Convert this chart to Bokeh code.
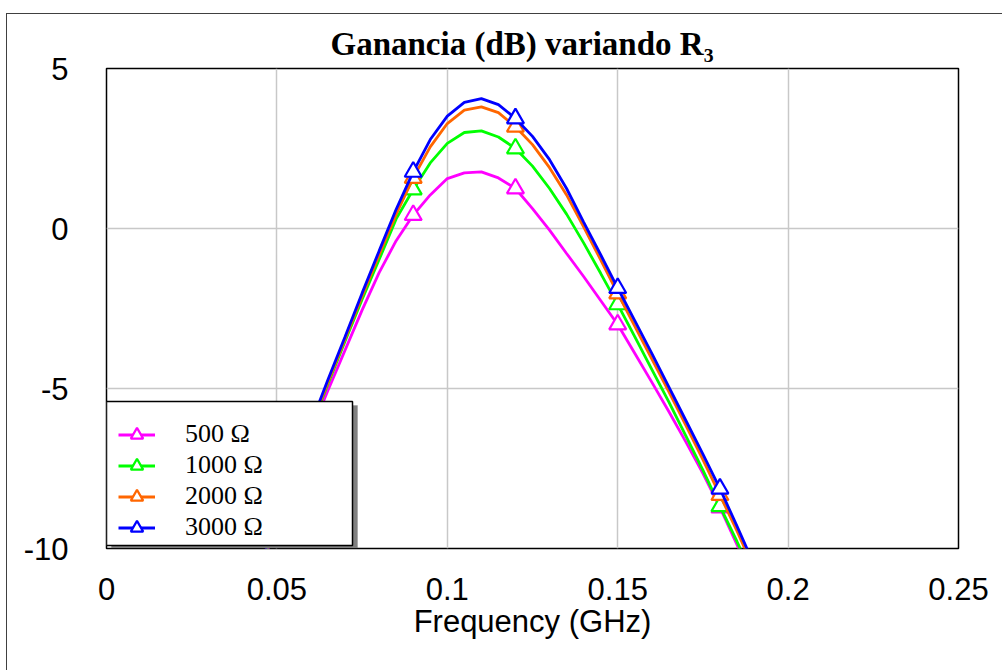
import numpy as np
from bokeh.plotting import figure
from bokeh.models import (Range1d, FixedTicker, Legend, LegendItem, BoxAnnotation,
                          InlineStyleSheet)
from bokeh.embed import file_html
from bokeh.resources import INLINE

# ---- data ----
freq = [0.045, 0.050, 0.055, 0.060, 0.065, 0.070, 0.075, 0.080, 0.085, 0.090,
        0.095, 0.100, 0.105, 0.110, 0.115, 0.120, 0.125, 0.130, 0.135, 0.140,
        0.145, 0.150, 0.155, 0.160, 0.165, 0.170, 0.175, 0.180, 0.185, 0.190]

gain_500 = [-10.8, -9.2, -7.75, -6.35, -5.05, -3.8, -2.55, -1.38, -0.38, 0.42,
            1.05, 1.56, 1.74, 1.77, 1.58, 1.25, 0.62, -0.05, -0.78, -1.5,
            -2.25, -3.0, -3.9, -4.8, -5.72, -6.67, -7.65, -8.72, -9.88, -11.1]
gain_1000 = [-10.7, -9.1, -7.65, -6.22, -4.85, -3.52, -2.22, -0.97, 0.3, 1.22,
             2.05, 2.66, 3.0, 3.05, 2.86, 2.5, 1.95, 1.25, 0.45, -0.45,
             -1.4, -2.37, -3.38, -4.4, -5.42, -6.48, -7.55, -8.68, -9.78, -10.95]
gain_2000 = [-10.65, -9.05, -7.6, -6.17, -4.8, -3.45, -2.12, -0.82, 0.45, 1.58,
             2.55, 3.28, 3.70, 3.80, 3.62, 3.18, 2.62, 1.9, 1.05, 0.05,
             -0.98, -2.03, -3.05, -4.07, -5.1, -6.15, -7.22, -8.33, -9.45, -10.65]
gain_3000 = [-10.6, -9.0, -7.55, -6.1, -4.72, -3.38, -2.02, -0.7, 0.6, 1.77,
             2.78, 3.51, 3.94, 4.06, 3.87, 3.44, 2.88, 2.15, 1.25, 0.2,
             -0.82, -1.86, -2.88, -3.9, -4.95, -6.0, -7.05, -8.13, -9.3, -10.5]

series_labels = ["500 \u03a9", "1000 \u03a9", "2000 \u03a9", "3000 \u03a9"]
series_values = [gain_500, gain_1000, gain_2000, gain_3000]
series_colors = ["#ff00ff", "#00ff00", "#ff6600", "#0000ff"]

marker_freqs = [0.09, 0.12, 0.15, 0.18]

xticks = [0, 0.05, 0.1, 0.15, 0.2, 0.25]
xtick_labels = ["0", "0.05", "0.1", "0.15", "0.2", "0.25"]
yticks = [-10, -5, 0, 5]
ytick_labels = ["-10", "-5", "0", "5"]

title_text = "Ganancia (dB) variando R\u2083"
x_label = "Frequency (GHz)"

# ---- figure ----
p = figure(width=1002, height=670,
           x_range=Range1d(0, 0.25), y_range=Range1d(-10, 5),
           output_backend="svg", toolbar_location=None,
           min_border_left=106, min_border_right=44,
           min_border_top=68, min_border_bottom=122,
           title=title_text)

p.background_fill_color = "white"
p.border_fill_color = "white"
p.outline_line_color = "black"
p.outline_line_width = 1.5

# outer page frame (top and left rules of the sheet)
p.stylesheets = [InlineStyleSheet(css="""
:host { position: relative; }
:host::after {
  content: "";
  position: absolute;
  left: 6px; top: 13px; right: 0px; bottom: 0px;
  border-left: 1.5px solid #404040;
  border-top: 1.5px solid #404040;
  pointer-events: none;
}
""")]

p.title.text_font = "Liberation Serif"
p.title.text_font_style = "bold"
p.title.text_font_size = "33px"
p.title.text_color = "black"
p.title.align = "left"
p.title.offset = 224
p.title.standoff = 13

p.xaxis.ticker = FixedTicker(ticks=xticks)
p.yaxis.ticker = FixedTicker(ticks=yticks)
p.xgrid.ticker = FixedTicker(ticks=xticks)
p.ygrid.ticker = FixedTicker(ticks=yticks)
p.xaxis.major_label_overrides = dict(zip(xticks, xtick_labels))
p.yaxis.major_label_overrides = dict(zip(yticks, ytick_labels))

for ax in (p.xaxis[0], p.yaxis[0]):
    ax.axis_line_color = None
    ax.major_tick_line_color = None
    ax.minor_tick_line_color = None
    ax.major_label_text_font = "Liberation Sans"
    ax.major_label_text_font_size = "31px"
    ax.major_label_text_color = "black"

p.xaxis.major_label_standoff = 23
p.yaxis.major_label_standoff = 32
p.xaxis.axis_label = x_label
p.xaxis.axis_label_text_font = "Liberation Sans"
p.xaxis.axis_label_text_font_size = "31px"
p.xaxis.axis_label_text_font_style = "normal"
p.xaxis.axis_label_text_color = "black"
p.xaxis.axis_label_standoff = 1

for g in (p.xgrid[0], p.ygrid[0]):
    g.grid_line_color = "#c8c8c8"
    g.grid_line_width = 1.5

# ---- curves ----
freq_arr = np.array(freq)
mask = np.array([np.any(np.isclose(f, marker_freqs)) for f in freq_arr])
items = []
for label, vals, col in zip(series_labels, series_values, series_colors):
    vals_arr = np.array(vals)
    ln = p.line(freq_arr, vals_arr, line_color=col, line_width=2.8)
    mk = p.scatter(freq_arr[mask], vals_arr[mask], marker="triangle", size=17,
                   line_color=col, line_width=2.2, fill_color="white")
    items.append(LegendItem(label=label, renderers=[ln, mk]))

# ---- legend box with shadow ----
shadow = BoxAnnotation(left=5, right=251, top=143, bottom=0.5,
                       left_units="screen", right_units="screen",
                       top_units="screen", bottom_units="screen",
                       fill_color="#808080", fill_alpha=1.0,
                       line_color="#808080", line_width=1)
box = BoxAnnotation(left=0, right=246, top=147, bottom=3,
                    left_units="screen", right_units="screen",
                    top_units="screen", bottom_units="screen",
                    fill_color="white", fill_alpha=1.0,
                    line_color="black", line_width=1.5, line_alpha=1)
p.add_layout(shadow)
p.add_layout(box)

legend = Legend(items=items, location=(12, 5.5), padding=0, margin=0,
                spacing=0, label_height=31, glyph_height=31, glyph_width=37,
                label_standoff=30, label_text_font="Liberation Serif",
                label_text_font_size="26px", label_text_color="black",
                border_line_color=None, background_fill_alpha=0,
                level="overlay")
p.add_layout(legend)

open("out.html", "w").write(file_html(p, INLINE))
